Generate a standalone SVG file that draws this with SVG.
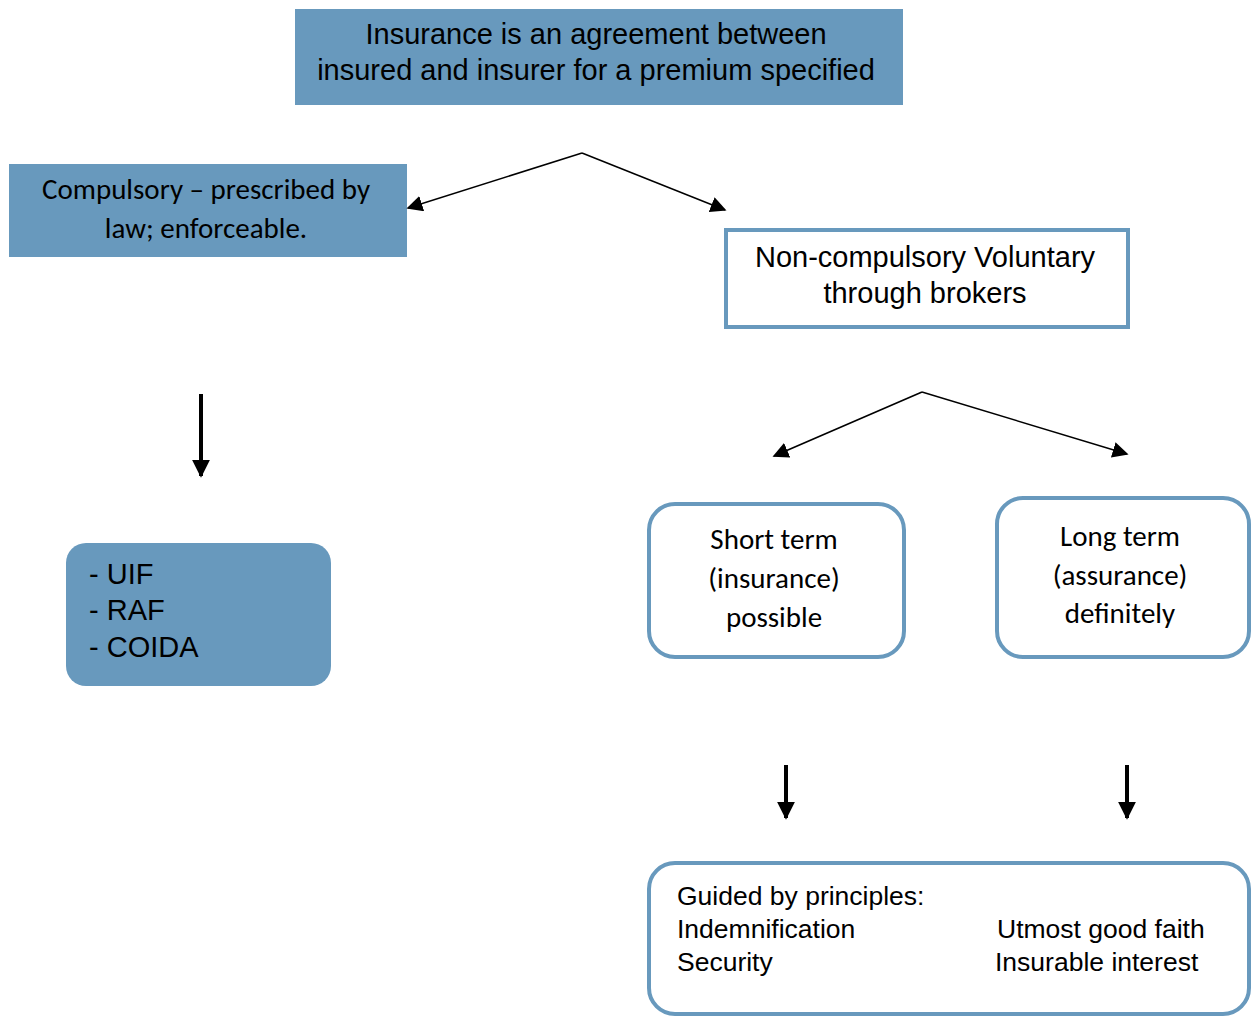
<svg xmlns="http://www.w3.org/2000/svg" width="1252" height="1017" viewBox="0 0 1252 1017">
<style>
.fill{fill:#6899bd;stroke:none}
.out{fill:#fff;stroke:#6899bd;stroke-width:4}
.a{font-family:"Liberation Sans",Arial,sans-serif;font-size:29px;fill:#000}
.b{font-family:"Liberation Sans",Arial,sans-serif;font-size:26.5px;fill:#000}
.c{font-family:Carlito,Lato,"Open Sans",sans-serif;font-size:29px;fill:#000}
.m{text-anchor:middle}
.ln{stroke:#000;stroke-width:1.5;fill:none}
.th{stroke:#000;stroke-width:4;fill:none}
</style>
<defs>
<marker id="ah" viewBox="0 0 10 10" refX="9" refY="5" markerWidth="16" markerHeight="16" markerUnits="userSpaceOnUse" orient="auto"><path d="M0,0 L10,5 L0,10 z" fill="#000"/></marker>
<marker id="ahb" viewBox="0 0 10 10" refX="9" refY="5" markerWidth="4.5" markerHeight="4.5" orient="auto"><path d="M0,0 L10,5 L0,10 z" fill="#000"/></marker>
</defs>
<g id="top">
<rect class="fill" x="295" y="9" width="608" height="96"/>
<text class="a m" x="596" y="44">Insurance is an agreement between</text>
<text class="a m" x="596" y="80">insured and insurer for a premium specified</text>
</g>
<g id="compulsory">
<rect class="fill" x="9" y="164" width="398" height="93"/>
<text class="c m" x="206" y="199">Compulsory – prescribed by</text>
<text class="c m" x="206" y="238">law; enforceable.</text>
</g>
<g id="noncompulsory">
<rect class="out" x="726" y="230" width="402" height="97"/>
<text class="a m" x="925" y="267">Non-compulsory Voluntary</text>
<text class="a m" x="925" y="303">through brokers</text>
</g>
<g id="list">
<rect class="fill" x="66" y="543" width="265" height="143" rx="20"/>
<text class="a" x="89" y="584">- UIF</text>
<text class="a" x="89" y="620">- RAF</text>
<text class="a" x="89" y="657">- COIDA</text>
</g>
<g id="short">
<rect class="out" x="649" y="504" width="255" height="153" rx="26"/>
<text class="c m" x="774" y="549">Short term</text>
<text class="c m" x="774" y="588">(insurance)</text>
<text class="c m" x="774" y="627">possible</text>
</g>
<g id="long">
<rect class="out" x="997" y="498" width="252" height="159" rx="26"/>
<text class="c m" x="1120" y="546">Long term</text>
<text class="c m" x="1120" y="585">(assurance)</text>
<text class="c m" x="1120" y="623">definitely</text>
</g>
<g id="principles">
<rect class="out" x="649" y="863" width="600" height="151" rx="26"/>
<text class="b" x="677" y="905">Guided by principles:</text>
<text class="b" x="677" y="938">Indemnification</text>
<text class="b" x="677" y="971">Security</text>
<text class="b" x="997" y="938">Utmost good faith</text>
<text class="b" x="995" y="971">Insurable interest</text>
</g>
<g id="connectors">
<path class="ln" d="M582,153 L408,208" marker-end="url(#ah)"/>
<path class="ln" d="M582,153 L725,210" marker-end="url(#ah)"/>
<path class="ln" d="M922,392 L774,456" marker-end="url(#ah)"/>
<path class="ln" d="M922,392 L1127,454" marker-end="url(#ah)"/>
<path class="th" d="M201,394 L201,476" marker-end="url(#ahb)"/>
<path class="th" d="M786,765 L786,818" marker-end="url(#ahb)"/>
<path class="th" d="M1127,765 L1127,818" marker-end="url(#ahb)"/>
</g>
</svg>
